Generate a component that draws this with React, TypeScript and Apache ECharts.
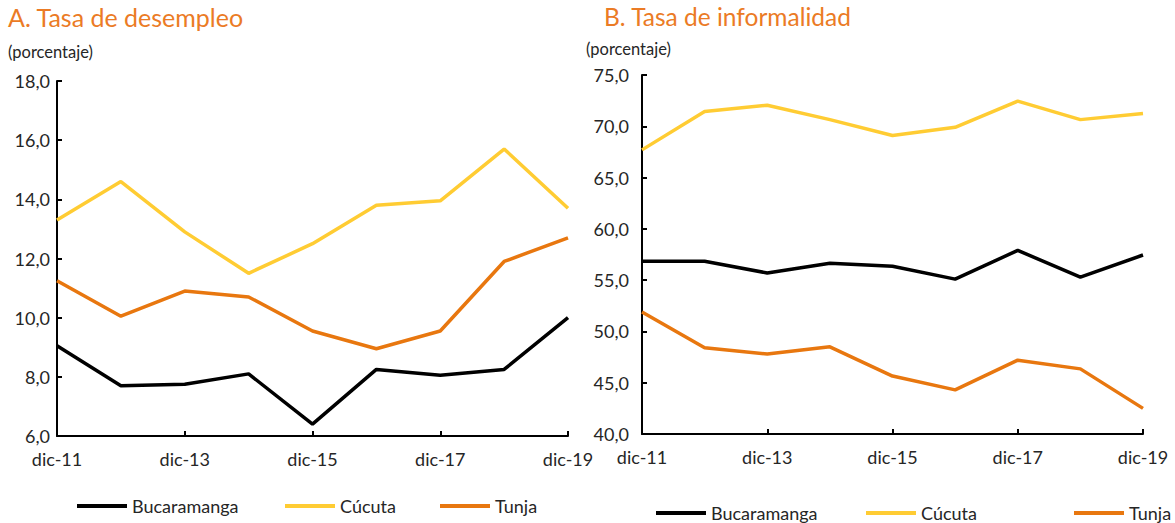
import React, { useEffect, useRef } from "react";
import * as echarts from "echarts";

const categories = ["dic-11", "dic-12", "dic-13", "dic-14", "dic-15", "dic-16", "dic-17", "dic-18", "dic-19"];

const desempleoBucaramanga = [9.05, 7.7, 7.75, 8.1, 6.4, 8.25, 8.05, 8.25, 10.0];
const desempleoCucuta = [13.3, 14.6, 12.9, 11.5, 12.5, 13.8, 13.95, 15.7, 13.7];
const desempleoTunja = [11.25, 10.05, 10.9, 10.7, 9.55, 8.95, 9.55, 11.9, 12.7];

const informalidadBucaramanga = [56.85, 56.85, 55.7, 56.65, 56.35, 55.1, 57.9, 55.3, 57.45];
const informalidadCucuta = [67.7, 71.45, 72.05, 70.65, 69.1, 69.9, 72.45, 70.65, 71.25];
const informalidadTunja = [51.9, 48.4, 47.8, 48.5, 45.65, 44.3, 47.2, 46.35, 42.5];

const seriesNames = ["Bucaramanga", "Cúcuta", "Tunja"];
const seriesColors = ["#000000", "#FFCC33", "#E8770F"];

const FONT = "Lato";
const TEXT = "#262626";
const TITLE = "#EB7B25";

export default function App() {
  const ref = useRef<HTMLDivElement>(null);
  useEffect(() => {
    if (!ref.current) return;
    const chart = echarts.init(ref.current, undefined, { renderer: "svg" });
    const fmt = (v: number) => v.toFixed(1).replace(".", ",");
    const xAxisBase = (gridIndex: number) => ({
      type: "category",
      gridIndex,
      data: categories,
      boundaryGap: false,
      axisLine: { lineStyle: { color: "#000", width: 2 } },
      axisTick: { inside: true, length: 5, interval: 1, lineStyle: { color: "#000", width: 2 } },
      axisLabel: { interval: 1, color: TEXT, fontFamily: FONT, fontSize: 18, margin: 14 },
      splitLine: { show: false },
    });
    const yAxisBase = (gridIndex: number, min: number, max: number, interval: number, margin: number) => ({
      type: "value",
      gridIndex,
      min,
      max,
      interval,
      axisLine: { show: true, lineStyle: { color: "#000", width: 2 } },
      axisTick: { show: true, inside: true, length: 5, lineStyle: { color: "#000", width: 2 } },
      axisLabel: { color: TEXT, fontFamily: FONT, fontSize: 18, margin, formatter: fmt },
      splitLine: { show: false },
    });
    const mk = (name: string, data: number[], idx: number, color: string) => ({
      type: "line",
      name,
      data,
      xAxisIndex: idx,
      yAxisIndex: idx,
      symbol: "none",
      lineStyle: { color, width: 3.5 },
      itemStyle: { color },
    });
    const legend = (name: string, left: number, top: number) => ({
      data: [name],
      left,
      top,
      itemWidth: 50,
      itemHeight: 4,
      icon: "rect",
      padding: 0,
      textStyle: { color: TEXT, fontFamily: FONT, fontSize: 18 },
      selectedMode: false,
    });
    chart.setOption({
      animation: false,
      backgroundColor: "#ffffff",
      grid: [
        { left: 57, top: 81, width: 511, height: 355 },
        { left: 642, top: 75, width: 501, height: 359 },
      ],
      xAxis: [xAxisBase(0), xAxisBase(1)],
      yAxis: [yAxisBase(0, 6, 18, 2, 7), yAxisBase(1, 40, 75, 5, 13)],
      legend: [
        legend(seriesNames[0], 77, 497),
        legend(seriesNames[1], 285, 497),
        legend(seriesNames[2], 440, 497),
        legend(seriesNames[0], 656, 504),
        legend(seriesNames[1], 866, 504),
        legend(seriesNames[2], 1074, 504),
      ],
      series: [
        mk(seriesNames[0], desempleoBucaramanga, 0, seriesColors[0]),
        mk(seriesNames[1], desempleoCucuta, 0, seriesColors[1]),
        mk(seriesNames[2], desempleoTunja, 0, seriesColors[2]),
        mk(seriesNames[0], informalidadBucaramanga, 1, seriesColors[0]),
        mk(seriesNames[1], informalidadCucuta, 1, seriesColors[1]),
        mk(seriesNames[2], informalidadTunja, 1, seriesColors[2]),
      ],
      graphic: [
        { type: "text", left: 8, top: 4, style: { text: "A. Tasa de desempleo", fill: TITLE, fontFamily: FONT, fontSize: 25 } },
        { type: "text", left: 604, top: 4, style: { text: "B. Tasa de informalidad", fill: TITLE, fontFamily: FONT, fontSize: 24.5 } },
        { type: "text", left: 8, top: 43, style: { text: "(porcentaje)", fill: TEXT, fontFamily: FONT, fontSize: 16.5 } },
        { type: "text", left: 586, top: 40, style: { text: "(porcentaje)", fill: TEXT, fontFamily: FONT, fontSize: 16.5 } },
      ],
    });
    return () => chart.dispose();
  }, []);
  return <div ref={ref} style={{ position: "fixed", left: 0, top: 0, width: 1175, height: 523 }} />;
}
